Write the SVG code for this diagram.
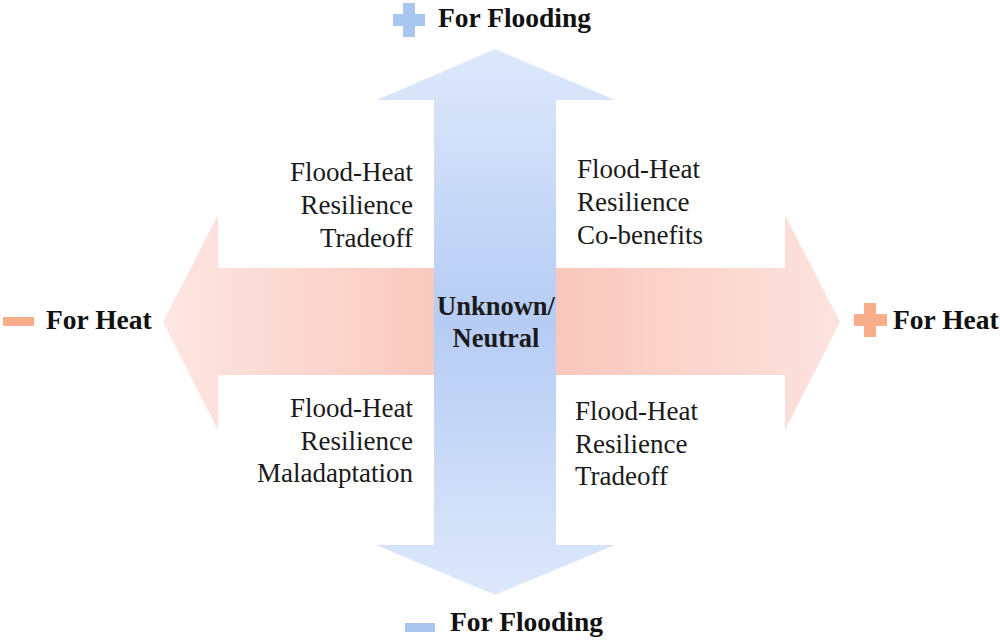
<svg xmlns="http://www.w3.org/2000/svg" width="1000" height="641" viewBox="0 0 1000 641">
  <defs>
    <linearGradient id="gH" gradientUnits="userSpaceOnUse" x1="163" y1="0" x2="840" y2="0">
      <stop offset="0" stop-color="#fde6e2"/>
      <stop offset="0.5" stop-color="#f8c2b6"/>
      <stop offset="1" stop-color="#fde3de"/>
    </linearGradient>
    <linearGradient id="gV" gradientUnits="userSpaceOnUse" x1="0" y1="49" x2="0" y2="595">
      <stop offset="0" stop-color="#dde8fb"/>
      <stop offset="0.5" stop-color="#b6ccf4"/>
      <stop offset="1" stop-color="#dde8fb"/>
    </linearGradient>
    <style>
      .lbl { font-family: "Liberation Serif", "Times New Roman", serif; font-weight: bold; font-size: 27.5px; fill: #111; }
      .q { font-family: "Liberation Serif", "Times New Roman", serif; font-size: 27px; fill: #1a1a1a; }
      .ctr { font-family: "Liberation Serif", "Times New Roman", serif; font-weight: bold; font-size: 26.5px; fill: #1a1a1a; text-anchor: middle; }
      .blue { fill: #a9c6ef; }
      .orange { fill: #f8ae88; }
    </style>
  </defs>
  <rect width="1000" height="641" fill="#ffffff"/>

  <g id="connectors">
    <polygon id="heat-axis" fill="url(#gH)" points="163,322 218,215 218,268 785,268 785,215 840,322 785,430 785,375 218,375 218,430"/>
    <polygon id="flood-axis" fill="url(#gV)" points="495,49 615,100 556,100 556,545 615,545 495,595 376,545 434,545 434,100 377,100"/>
  </g>

  <g id="top-label">
    <rect class="blue" x="393" y="14" width="32" height="12"/>
    <rect class="blue" x="403" y="3" width="12" height="34"/>
    <text class="lbl" x="438" y="27">For Flooding</text>
  </g>

  <g id="bottom-label">
    <rect class="blue" x="405" y="623" width="30" height="9"/>
    <text class="lbl" x="450" y="631">For Flooding</text>
  </g>

  <g id="left-label">
    <rect class="orange" x="3" y="317" width="31" height="9"/>
    <text class="lbl" x="46" y="329">For Heat</text>
  </g>

  <g id="right-label">
    <rect class="orange" x="854" y="314" width="33" height="12"/>
    <rect class="orange" x="864" y="303" width="12" height="34"/>
    <text class="lbl" x="893" y="329">For Heat</text>
  </g>

  <g id="center">
    <text class="ctr" x="496" y="315">Unknown/</text>
    <text class="ctr" x="496" y="347">Neutral</text>
  </g>

  <g id="q-top-left">
    <text class="q" text-anchor="end" x="413" y="181">Flood-Heat</text>
    <text class="q" text-anchor="end" x="413" y="214">Resilience</text>
    <text class="q" text-anchor="end" x="413" y="247">Tradeoff</text>
  </g>

  <g id="q-top-right">
    <text class="q" x="577" y="178">Flood-Heat</text>
    <text class="q" x="577" y="211">Resilience</text>
    <text class="q" x="577" y="244">Co-benefits</text>
  </g>

  <g id="q-bottom-left">
    <text class="q" text-anchor="end" x="413" y="417">Flood-Heat</text>
    <text class="q" text-anchor="end" x="413" y="450">Resilience</text>
    <text class="q" text-anchor="end" x="413" y="482">Maladaptation</text>
  </g>

  <g id="q-bottom-right">
    <text class="q" x="575" y="420">Flood-Heat</text>
    <text class="q" x="575" y="453">Resilience</text>
    <text class="q" x="575" y="485">Tradeoff</text>
  </g>
</svg>
